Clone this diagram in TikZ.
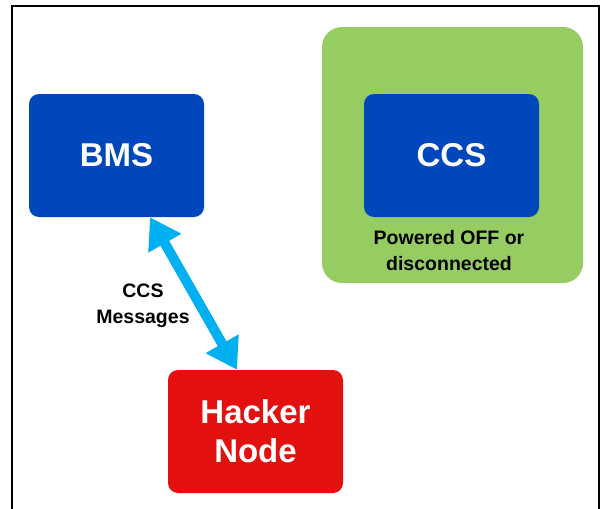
\documentclass[tikz,border=0pt]{standalone}
\usepackage{fontspec}
\setmainfont{Liberation Sans}
\usetikzlibrary{arrows.meta,positioning}
\definecolor{bmsblue}{RGB}{0,71,187}
\definecolor{areagreen}{RGB}{149,205,98}
\definecolor{hackred}{RGB}{227,16,16}
\definecolor{msgcyan}{RGB}{0,176,240}

\begin{document}
\begin{tikzpicture}[x=1pt,y=-1pt,
    box/.style={fill=bmsblue,rounded corners=10pt,minimum width=175pt,minimum height=123pt,
        inner sep=0pt,align=center,text=white,font=\fontsize{33}{39}\selectfont\bfseries},
    lbl/.style={inner sep=0pt,align=center,font=\fontsize{19.5}{26}\selectfont\bfseries},
    msg/.style={line width=10pt,msgcyan,arrows={Triangle[length=30pt,width=36pt]-Triangle[length=30pt,width=36pt]}}]
\useasboundingbox (0,0) rectangle (603,509);
% open frame
\draw[line width=2pt](12,509)--(12,6)--(599,6)--(599,509);
% CCS side, switched off
\node[fill=areagreen,rounded corners=20pt,minimum width=261pt,minimum height=256pt](area) at (452.5,155){};
\node[box](ccs) at (451.5,155.5){CCS};
\node[lbl](state) at (449,250.5){Powered OFF or\\disconnected};
% BMS and the node faking the CCS
\node[box](bms) at (116.5,155.5){BMS};
\node[box,fill=hackred](hacker) at (255.5,431.5){Hacker\\Node};
\draw[msg]([xshift=33.5pt]bms.south)--([xshift=-18.5pt]hacker.north);
\node[lbl](msglbl) at (143,305.5){CCS\\Messages};
\end{tikzpicture}
\end{document}
